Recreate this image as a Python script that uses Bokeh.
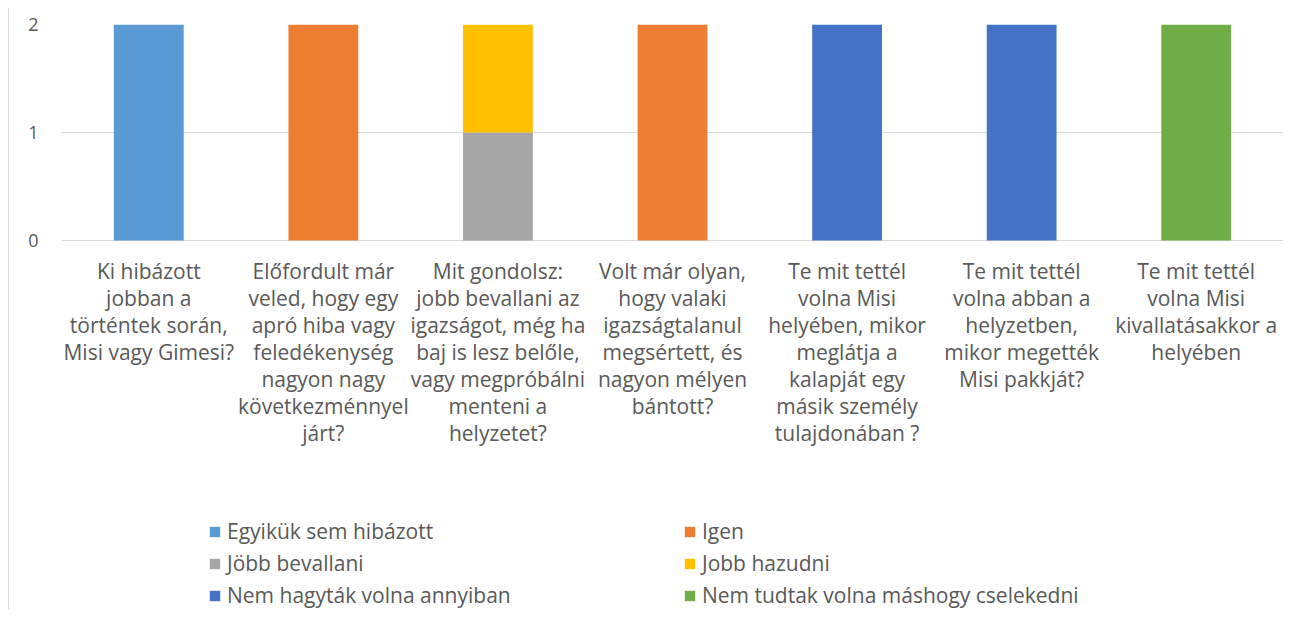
from bokeh.plotting import figure
from bokeh.models import Range1d, FixedTicker, Legend, LegendItem
from bokeh.core.properties import value
from bokeh.embed import file_html
from bokeh.resources import INLINE

categories = [
    "Ki hibázott\njobban a\ntörténtek során,\nMisi vagy Gimesi?",
    "Előfordult már\nveled, hogy egy\napró hiba vagy\nfeledékenység\nnagyon nagy\nkövetkezménnyel\njárt?",
    "Mit gondolsz:\njobb bevallani az\nigazságot, még ha\nbaj is lesz belőle,\nvagy megpróbálni\nmenteni a\nhelyzetet?",
    "Volt már olyan,\nhogy valaki\nigazságtalanul\nmegsértett, és\nnagyon mélyen\nbántott?",
    "Te mit tettél\nvolna Misi\nhelyében, mikor\nmeglátja a\nkalapját egy\nmásik személy\ntulajdonában ?",
    "Te mit tettél\nvolna abban a\nhelyzetben,\nmikor megették\nMisi pakkját?",
    "Te mit tettél\nvolna Misi\nkivallatásakkor a\nhelyében",
]
series_names = [
    "Egyikük sem hibázott",
    "Igen",
    "Jöbb bevallani",
    "Jobb hazudni",
    "Nem hagyták volna annyiban",
    "Nem tudtak volna máshogy cselekedni",
]
egyikuk = [2, 0, 0, 0, 0, 0, 0]
igen = [0, 2, 0, 2, 0, 0, 0]
jobb_bevallani = [0, 0, 1, 0, 0, 0, 0]
jobb_hazudni = [0, 0, 1, 0, 0, 0, 0]
nem_hagytak = [0, 0, 0, 0, 2, 2, 0]
nem_tudtak = [0, 0, 0, 0, 0, 0, 2]
colors = ["#5B9BD5", "#ED7D31", "#A5A5A5", "#FFC000", "#4472C4", "#70AD47"]
y_ticks = [0, 1, 2]

FONT = "Open Sans"
TXT = "#595959"

# layout: 108 px per value unit; frame extends below 0 to hold labels and legend
PX_PER_UNIT = 108
FRAME_H = 585
y_max = max(y_ticks)
y_min = y_max - FRAME_H / PX_PER_UNIT

xs = list(range(len(categories)))
data = {"x": xs}
keys = ["s0", "s1", "s2", "s3", "s4", "s5"]
for k, vals in zip(keys, [egyikuk, igen, jobb_bevallani, jobb_hazudni, nem_hagytak, nem_tudtak]):
    data[k] = vals

p = figure(frame_width=1222, frame_height=FRAME_H, output_backend="svg", toolbar_location=None,
           x_range=Range1d(-0.5, len(categories) - 0.5), y_range=Range1d(y_min, y_max),
           min_border_left=52, min_border_right=8, min_border_top=16, min_border_bottom=0)
p.styles = {"margin-left": "8px", "margin-top": "8px", "border-left": "1px solid #d9d9d9"}

renderers = p.vbar_stack(keys, x="x", width=0.4, color=colors, source=data, line_width=0)

p.outline_line_color = None
p.xgrid.grid_line_color = None
p.ygrid.grid_line_color = "#d9d9d9"
p.ygrid.grid_line_width = 1
p.ygrid.ticker = FixedTicker(ticks=y_ticks)

p.yaxis.ticker = FixedTicker(ticks=y_ticks)
p.yaxis.axis_line_color = None
p.yaxis.major_tick_line_color = None
p.yaxis.minor_tick_line_color = None
p.yaxis.major_label_text_font = FONT
p.yaxis.major_label_text_font_size = "18px"
p.yaxis.major_label_text_color = TXT
p.yaxis.major_label_standoff = 17

p.xaxis.visible = False

# category labels below the zero line
p.text(x=xs, y=[0] * len(xs), text=categories, y_offset=16,
       text_align="center", text_baseline="top", text_font=value(FONT),
       text_font_size="21px", text_color=TXT, text_line_height=0.965)

items = [LegendItem(label=n, renderers=[r]) for n, r in zip(series_names, renderers)]
legend = Legend(items=items, ncols=2, orientation="horizontal", location=(147, 0),
                label_text_font=FONT, label_text_font_size="21px", label_text_color=TXT,
                glyph_width=13, glyph_height=13, label_standoff=6,
                label_width=452, label_height=27, spacing=4,
                border_line_color=None, background_fill_alpha=0,
                margin=0, padding=0)
p.add_layout(legend, "center")

open("out.html", "w").write(file_html(p, INLINE))
